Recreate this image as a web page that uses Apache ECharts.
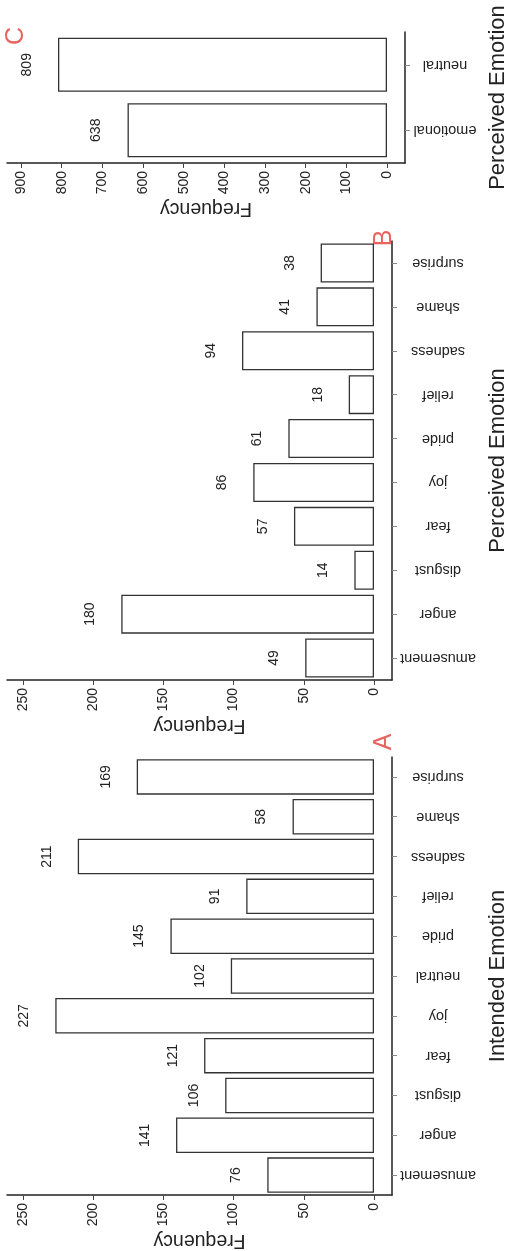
<!DOCTYPE html>
<html><head><meta charset="utf-8">
<script src="https://cdn.jsdelivr.net/npm/echarts@6/dist/echarts.min.js"></script>
<style>html,body{margin:0;padding:0;background:#fff}#c{width:505px;height:1251px}</style>
</head><body><div id="c"></div>
<script>
// ---- data ----
const intendedCats = ['amusement','anger','disgust','fear','joy','neutral','pride','relief','sadness','shame','surprise'];
const intendedVals = [76,141,106,121,227,102,145,91,211,58,169];
const perceivedCats = ['amusement','anger','disgust','fear','joy','pride','relief','sadness','shame','surprise'];
const perceivedVals = [49,180,14,57,86,61,18,94,41,38];
const binaryCats = ['emotional','neutral'];
const binaryVals = [638,809];
const freqTicksAB = [0,50,100,150,200,250];
const freqTicksC = [0,100,200,300,400,500,600,700,800,900];
const panelLetters = ['A','B','C'];
const catTitles = ['Intended Emotion','Perceived Emotion','Perceived Emotion'];
const valTitle = 'Frequency';

const FONT = '"Liberation Sans", Arial, Helvetica, sans-serif';
const TXT = '#222';

const panels = [
  {cats:intendedCats, vals:intendedVals, ticks:freqTicksAB, grid:{left:7, top:757, width:385, height:438},
   min:-12.82, max:261.4, barWidth:35.5, catMargin:46, catNameGap:105, valNameGap:43},
  {cats:perceivedCats, vals:perceivedVals, ticks:freqTicksAB, grid:{left:7, top:241, width:385, height:439},
   min:-12.82, max:261.4, barWidth:39, catMargin:46, catNameGap:105, valNameGap:41},
  {cats:binaryCats, vals:binaryVals, ticks:freqTicksC, grid:{left:7, top:32, width:398, height:131},
   min:-44.26, max:934.4, barWidth:54, catMargin:40, catNameGap:92, valNameGap:44}
];

const grids = [], xAxes = [], yAxes = [], series = [];
panels.forEach((p, i) => {
  grids.push(Object.assign({containLabel:false, outerBoundsMode:'none'}, p.grid));
  xAxes.push({
    gridIndex:i, type:'value', inverse:true, position:'bottom', min:p.min, max:p.max,
    axisLine:{show:true, onZero:false, lineStyle:{color:TXT, width:1.5}},
    axisTick:{show:true, customValues:p.ticks, length:5, lineStyle:{color:'#444', width:1}},
    axisLabel:{show:true, customValues:p.ticks, rotate:90, margin:8, fontSize:14, color:TXT, fontFamily:FONT},
    splitLine:{show:false},
    name:valTitle, nameLocation:'middle', nameGap:p.valNameGap, nameRotate:180,
    nameTextStyle:{fontSize:19.5, color:TXT, fontFamily:FONT, align:'center', verticalAlign:'middle'}
  });
  yAxes.push({
    gridIndex:i, type:'category', position:'right', data:p.cats,
    axisLine:{show:true, onZero:false, lineStyle:{color:TXT, width:1.5}},
    axisTick:{show:true, alignWithLabel:true, length:5, lineStyle:{color:'#888', width:1}},
    axisLabel:{interval:0, rotate:180, margin:p.catMargin, align:'center', verticalAlign:'middle',
               fontSize:14.5, color:TXT, fontFamily:FONT},
    splitLine:{show:false},
    name:catTitles[i], nameLocation:'middle', nameGap:p.catNameGap, nameRotate:90,
    nameTextStyle:{fontSize:22, color:TXT, fontFamily:FONT, align:'center', verticalAlign:'middle'}
  });
  series.push({
    type:'bar', xAxisIndex:i, yAxisIndex:i, data:p.vals, barWidth:p.barWidth, silent:true,
    itemStyle:{color:'#fff', borderColor:'#333', borderWidth:1.3},
    label:{show:true, position:'left', distance:31, rotate:90, align:'center', verticalAlign:'middle',
           fontSize:14, color:TXT, fontFamily:FONT}
  });
});

const letterPos = [[384, 742], [384, 238], [16, 36]];
const graphic = panelLetters.map((t, i) => ({
  type:'text', x:letterPos[i][0], y:letterPos[i][1], rotation:Math.PI/2,
  style:{text:t, fill:'#e8625f', font:'25px ' + FONT, align:'center', verticalAlign:'middle'}
}));

const chart = echarts.init(document.getElementById('c'), null, {renderer:'canvas'});
chart.setOption({
  animation:false, backgroundColor:'#fff',
  grid:grids, xAxis:xAxes, yAxis:yAxes, series:series, graphic:graphic
});
</script></body></html>
